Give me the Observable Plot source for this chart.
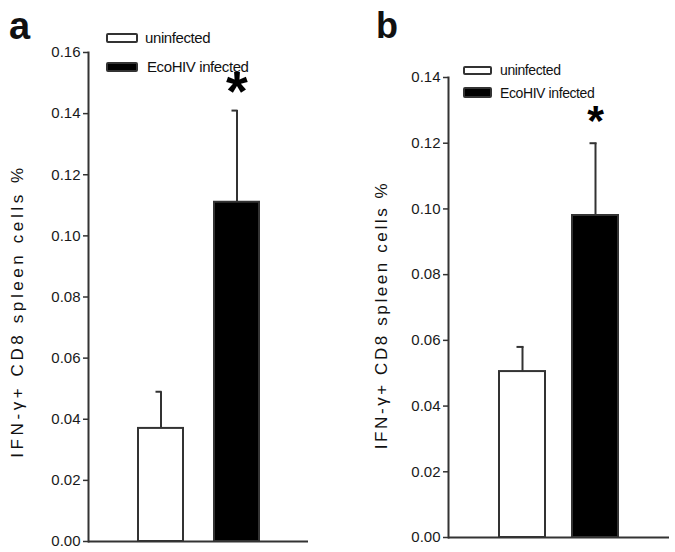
<!DOCTYPE html>
<html>
<head>
<meta charset="utf-8">
<script src="https://cdn.jsdelivr.net/npm/d3@7"></script>
<script src="https://cdn.jsdelivr.net/npm/@observablehq/plot@0.6"></script>
<style>
  body { margin: 0; background: #fff; }
  #root { position: relative; width: 675px; height: 552px; background: #fff; overflow: hidden;
          font-family: "Liberation Sans", Arial, sans-serif; color: #222; }
  .panel { position: absolute; top: 0; }
  .letter { position: absolute; font-weight: bold; color: #111; line-height: 1; }
  .ylab { position: absolute; white-space: nowrap; transform: translate(-50%, -50%) rotate(-90deg);
          font-size: 17px; letter-spacing: 3.6px; color: #111; line-height: 1; }
  .lbox { position: absolute; box-sizing: border-box; border: 2px solid #333; border-radius: 2px; }
  .ltxt { position: absolute; white-space: nowrap; line-height: 1; color: #111; letter-spacing: -0.4px; }
</style>
</head>
<body>
<div id="root"></div>
<script>
// ---- data ----
const groups = ["uninfected", "EcoHIV infected"];
const groupColors = ["#ffffff", "#000000"];
const meanA = [0.037, 0.111];
const errA = [0.012, 0.030];
const meanB = [0.0505, 0.098];
const errB = [0.0075, 0.022];
const sigA = ["", "*"];
const sigB = ["", "*"];
const ticksA = [0, 0.02, 0.04, 0.06, 0.08, 0.10, 0.12, 0.14, 0.16];
const ticksB = [0, 0.02, 0.04, 0.06, 0.08, 0.10, 0.12, 0.14];
const yTitle = "IFN-\u03b3+ CD8 spleen cells %";

const root = document.getElementById("root");

function panel({means, errs, sig, ticks, ymax, left, width, margins, padIn, padOut, starSize, starDy}) {
  const data = groups.map((g, i) => ({group: g, mean: means[i], top: means[i] + errs[i], color: groupColors[i], sig: sig[i]}));
  const bw = 45;
  const chart = Plot.plot({
    width, height: 552,
    marginLeft: margins[0], marginRight: margins[1], marginTop: margins[2], marginBottom: margins[3],
    style: {background: "transparent", fontFamily: "Liberation Sans, Arial, sans-serif", color: "#1a1a1a"},
    x: {domain: groups, paddingInner: padIn, paddingOuter: padOut, axis: null},
    y: {domain: [0, ymax], axis: null},
    color: {type: "identity"},
    marks: [
      Plot.ruleX(data, {x: "group", y1: "mean", y2: "top", stroke: "#333", strokeWidth: 2}),
      Plot.tickY(data, {x: "group", y: "top", stroke: "#333", strokeWidth: 2, insetLeft: bw / 2 - 5, insetRight: bw / 2 - 1}),
      Plot.barY(data, {x: "group", y: "mean", fill: "color", stroke: "#333", strokeWidth: 2}),
      Plot.ruleY([0], {stroke: "#333", strokeWidth: 2}),
      Plot.frame({anchor: "left", stroke: "#333", strokeWidth: 2}),
      Plot.axisY({ticks, tickFormat: d3.format(".2f"), tickSize: 5, tickPadding: 3, fontSize: 15, label: null, stroke: "#333", strokeWidth: 1.5}),
      Plot.text(data.filter(d => d.sig), {x: "group", y: "top", text: "sig", fontSize: starSize, fontWeight: "bold", lineAnchor: "middle", dy: starDy, fill: "#000"})
    ]
  });
  chart.classList.add("panel");
  chart.style.left = left + "px";
  root.appendChild(chart);
}

panel({means: meanA, errs: errA, sig: sigA, ticks: ticksA, ymax: 0.16, left: 0, width: 338,
       margins: [88, 30, 52, 11], padIn: 0.408, padOut: 0.651, starSize: 56, starDy: -18});
panel({means: meanB, errs: errB, sig: sigB, ticks: ticksB, ymax: 0.14, left: 338, width: 337,
       margins: [110, 6, 77, 15], padIn: 0.367, padOut: 0.687, starSize: 43, starDy: -22});

function html(cls, text, style) {
  const d = document.createElement("div");
  d.className = cls;
  if (text) d.textContent = text;
  Object.assign(d.style, style);
  root.appendChild(d);
}

// panel letters
html("letter", "a", {left: "9px", top: "7px", fontSize: "38px"});
html("letter", "b", {left: "376px", top: "8px", fontSize: "36px"});

// y titles
html("ylab", yTitle, {left: "17px", top: "311px"});
html("ylab", yTitle, {left: "381px", top: "315px", letterSpacing: "2.6px"});

// legends
html("lbox", "", {left: "106px", top: "33px", width: "32px", height: "10px", background: groupColors[0]});
html("lbox", "", {left: "106px", top: "62px", width: "32px", height: "10px", background: groupColors[1]});
html("ltxt", groups[0], {left: "145px", top: "30px", fontSize: "15px"});
html("ltxt", groups[1], {left: "147px", top: "59px", fontSize: "15px"});
html("lbox", "", {left: "463px", top: "66px", width: "29px", height: "9px", background: groupColors[0]});
html("lbox", "", {left: "463px", top: "87px", width: "29px", height: "11px", background: groupColors[1]});
html("ltxt", groups[0], {left: "500px", top: "63px", fontSize: "14px"});
html("ltxt", groups[1], {left: "500px", top: "86px", fontSize: "14px"});
</script>
</body>
</html>
